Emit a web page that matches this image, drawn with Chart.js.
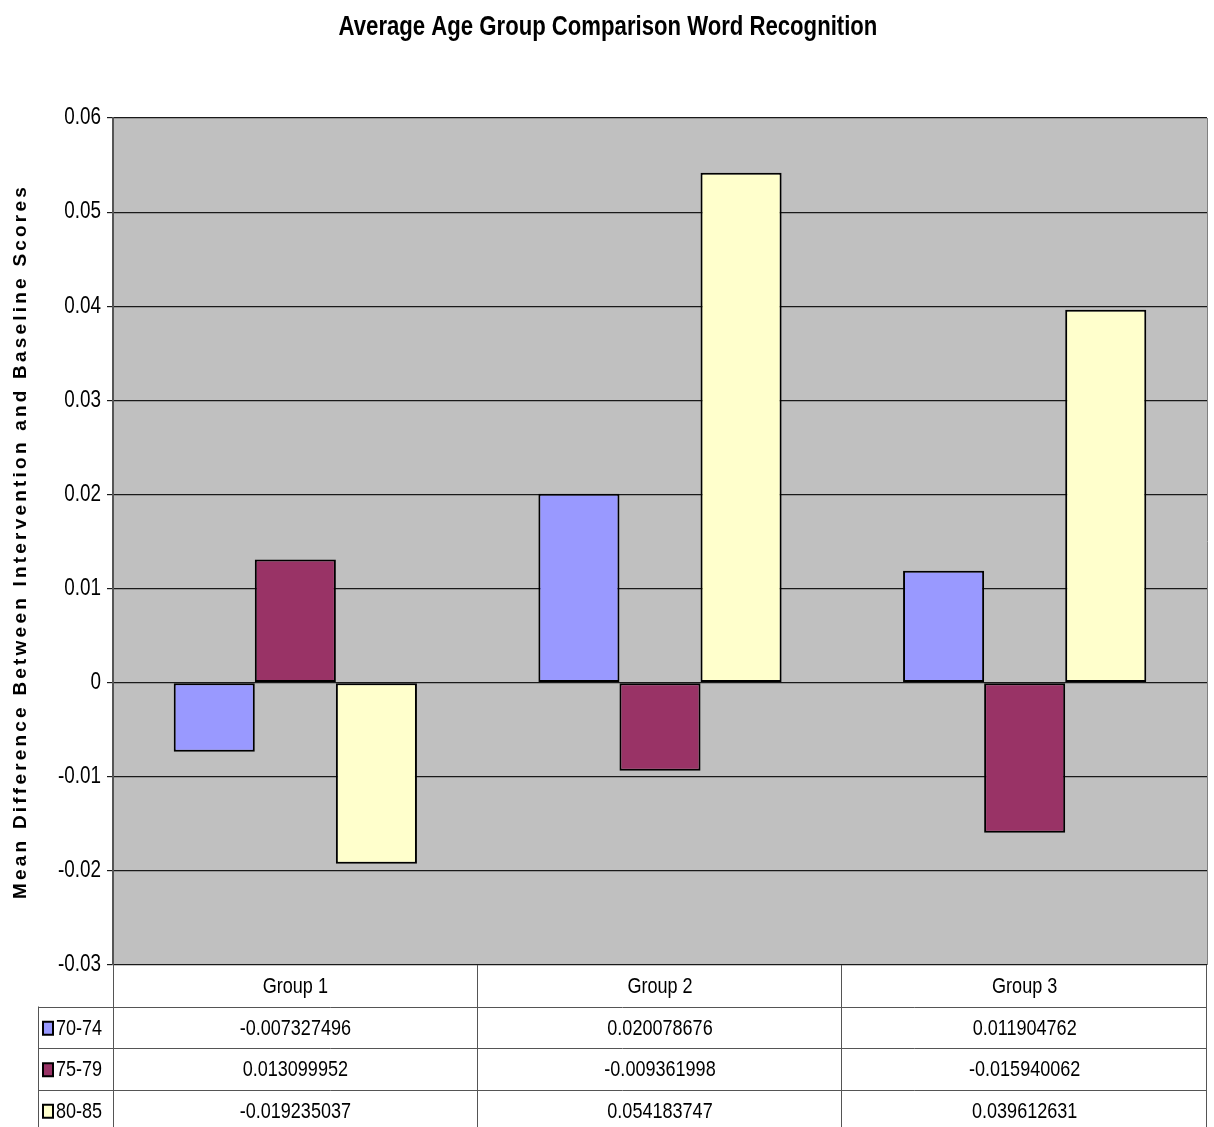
<!DOCTYPE html>
<html>
<head>
<meta charset="utf-8">
<script src="https://cdn.jsdelivr.net/npm/chart.js@4"></script>
<style>
  html,body{margin:0;padding:0;background:#fff;}
  #wrap{width:1214px;height:1127px;}
</style>
</head>
<body>
<div id="wrap"><canvas id="chart" width="1214" height="1127"></canvas></div>
<script>
// CHART DATA
const groups = ['Group 1', 'Group 2', 'Group 3'];
const seriesNames = ['70-74', '75-79', '80-85'];
const age7074 = [-0.007327496, 0.020078676, 0.011904762];
const age7579 = [0.013099952, -0.009361998, -0.015940062];
const age8085 = [-0.019235037, 0.054183747, 0.039612631];
const seriesColors = ['#9999FF', '#993366', '#FFFFCC'];
const yMin = -0.03, yMax = 0.06, yStep = 0.01;
const chartTitle = 'Average Age Group Comparison Word Recognition';
const yTitle = 'Mean Difference Between Intervention and Baseline Scores';

const ARIAL = '"Liberation Sans", Arial, sans-serif';
const TABLE_LEFT = 38;

// arial narrow look: liberation sans squeezed sideways
function narrowText(ctx, text, x, y, font, align) {
  ctx.save();
  ctx.font = font;
  ctx.textAlign = align || 'center';
  ctx.textBaseline = 'middle';
  ctx.translate(x, y);
  ctx.scale(0.82, 1);
  ctx.fillText(text, 0, 0);
  ctx.restore();
}

// Plot background + border
const plotBg = {
  id: 'plotBg',
  beforeDraw(chart) {
    const {ctx, chartArea: a} = chart;
    ctx.save();
    ctx.fillStyle = '#C0C0C0';
    ctx.fillRect(a.left, a.top, a.right - a.left, a.bottom - a.top);
    ctx.restore();
  },
  afterDatasetsDraw(chart) {
    const {ctx, chartArea: a} = chart;
    ctx.save();
    ctx.strokeStyle = '#808080';
    ctx.lineWidth = 1;
    ctx.beginPath();
    ctx.moveTo(a.right + 0.5, a.top);
    ctx.lineTo(a.right + 0.5, a.bottom);
    ctx.stroke();
    ctx.restore();
  }
};

// Titles + y tick labels
const titles = {
  id: 'titles',
  afterDraw(chart) {
    const {ctx, chartArea: a} = chart;
    const y = chart.scales.y;
    ctx.save();
    ctx.fillStyle = '#000';
    narrowText(ctx, chartTitle, chart.width / 2 + 1, 28, 'bold 27px ' + ARIAL);
    y.ticks.forEach(t => narrowText(ctx, t.label, 101, y.getPixelForValue(t.value), '23px ' + ARIAL, 'right'));
    // y title, spaced out like the original
    ctx.font = 'bold 19px ' + ARIAL;
    const w = ctx.measureText(yTitle).width;
    ctx.letterSpacing = Math.max(0, (715 - w) / yTitle.length) + 'px';
    ctx.translate(21, (a.top + a.bottom) / 2);
    ctx.rotate(-Math.PI / 2);
    ctx.textAlign = 'center';
    ctx.textBaseline = 'middle';
    ctx.fillText(yTitle, 0, 0);
    ctx.restore();
  }
};

// DATA TABLE UNDER THE PLOT
const dataTable = {
  id: 'dataTable',
  afterDraw(chart) {
    const {ctx, chartArea: a} = chart;
    const x = chart.scales.x;
    const colW = (a.right - a.left) / groups.length;
    const rowH = 41.5;
    const top = a.bottom;
    const bottom = chart.height;
    const allSeries = [age7074, age7579, age8085];
    const font = '22px ' + ARIAL;
    ctx.save();
    ctx.strokeStyle = '#555';
    ctx.lineWidth = 1;
    ctx.beginPath();
    ctx.moveTo(a.left + 0.5, top); ctx.lineTo(a.left + 0.5, bottom);
    for (let i = 0; i < groups.length; i++) {
      const xr = Math.round(x.getPixelForValue(i) + colW / 2) - 0.5;
      ctx.moveTo(xr, top); ctx.lineTo(xr, bottom);
    }
    ctx.moveTo(TABLE_LEFT + 0.5, top + rowH); ctx.lineTo(TABLE_LEFT + 0.5, bottom);
    for (let r = 1; r <= seriesNames.length; r++) {
      const yy = Math.round(top + r * rowH) + 0.5;
      ctx.moveTo(TABLE_LEFT, yy); ctx.lineTo(a.right, yy);
    }
    ctx.stroke();

    ctx.fillStyle = '#000';
    groups.forEach((g, i) => narrowText(ctx, g, x.getPixelForValue(i), top + rowH / 2 + 1.5, font));
    allSeries.forEach((vals, r) => {
      const yc = top + rowH * (r + 1.5) + 1.5;
      vals.forEach((v, i) => narrowText(ctx, String(v), x.getPixelForValue(i), yc, font));
      // legend key
      ctx.fillStyle = seriesColors[r];
      ctx.fillRect(TABLE_LEFT + 5, yc - 7, 10, 13);
      ctx.strokeStyle = '#000';
      ctx.lineWidth = 2;
      ctx.strokeRect(TABLE_LEFT + 5, yc - 7, 10, 13);
      ctx.fillStyle = '#000';
      narrowText(ctx, seriesNames[r], TABLE_LEFT + 18, yc, font, 'left');
    });
    ctx.restore();
  }
};

const ctx = document.getElementById('chart').getContext('2d');
const chart = new Chart(ctx, {
  type: 'bar',
  data: {
    labels: groups,
    datasets: [age7074, age7579, age8085].map((d, i) => ({
      label: seriesNames[i],
      data: d,
      backgroundColor: seriesColors[i],
      borderColor: '#000',
      borderWidth: 2,
      borderSkipped: false
    }))
  },
  options: {
    responsive: false,
    animation: false,
    layout: {padding: {left: 0, right: 7, bottom: 162, top: 118}},
    datasets: {bar: {categoryPercentage: 0.667, barPercentage: 1}},
    plugins: {
      legend: {display: false},
      tooltip: {enabled: false},
      title: {display: false}
    },
    scales: {
      x: {display: false},
      y: {
        min: yMin, max: yMax,
        afterFit(s) { s.width = 113; },
        ticks: {
          stepSize: yStep,
          display: false,
          callback: v => String(+v.toFixed(2))
        },
        grid: {color: '#1a1a1a', lineWidth: 1.2, tickLength: 6},
        border: {color: '#555', width: 2}
      }
    }
  },
  plugins: [plotBg, titles, dataTable]
});
</script>
</body>
</html>
